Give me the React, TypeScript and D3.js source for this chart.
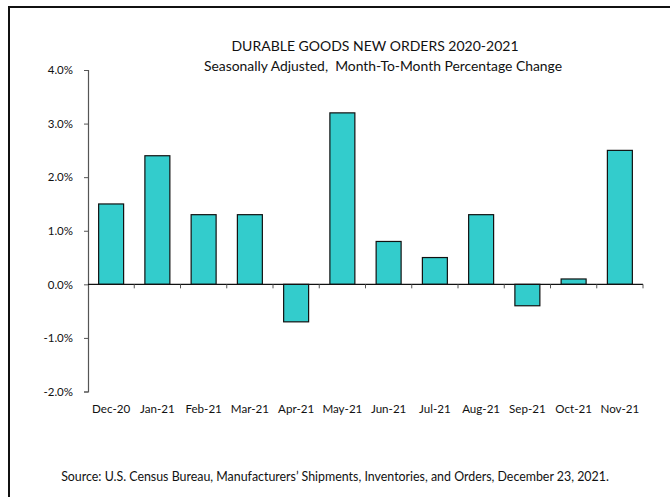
import * as d3 from 'd3';
import { useEffect, useRef } from 'react';

const months = ['Dec-20', 'Jan-21', 'Feb-21', 'Mar-21', 'Apr-21', 'May-21', 'Jun-21', 'Jul-21', 'Aug-21', 'Sep-21', 'Oct-21', 'Nov-21'];
const changes = [1.5, 2.4, 1.3, 1.3, -0.7, 3.2, 0.8, 0.5, 1.3, -0.4, 0.1, 2.5];
const yTicks = [-2, -1, 0, 1, 2, 3, 4];

const title = 'DURABLE GOODS NEW ORDERS 2020-2021';
const subtitle = 'Seasonally Adjusted,  Month-To-Month Percentage Change';
const source = 'Source: U.S. Census Bureau, Manufacturers\u2019 Shipments, Inventories, and Orders, December 23, 2021.';

const font = 'Lato, "Open Sans", sans-serif';

export default function App() {
  const svgRef = useRef<SVGSVGElement>(null);

  useEffect(() => {
    const svgEl = svgRef.current;
    if (!svgEl) return;

    const width = 670;
    const height = 497;
    const margin = { top: 70, right: 27, bottom: 105, left: 88 };

    const svg = d3.select(svgEl);
    svg.attr('width', width).attr('height', height);
    svg.selectAll('*').remove();

    // frame (only top and left edges are visible)
    svg.append('line').attr('x1', 8).attr('x2', width).attr('y1', 7).attr('y2', 7)
      .attr('stroke', '#111').attr('stroke-width', 2);
    svg.append('line').attr('x1', 9).attr('x2', 9).attr('y1', 7).attr('y2', height)
      .attr('stroke', '#111').attr('stroke-width', 2);

    const x = d3.scaleBand<string>()
      .domain(months)
      .range([margin.left, width - margin.right])
      .paddingInner(0.46)
      .paddingOuter(0.23);
    const y = d3.scaleLinear().domain([-2, 4]).range([height - margin.bottom - 0.5, margin.top]);

    const data = months.map((m, i) => ({ month: m, value: changes[i] }));

    svg.append('g')
      .selectAll('rect')
      .data(data)
      .join('rect')
      .attr('x', (d) => x(d.month)!)
      .attr('y', (d) => y(Math.max(0, d.value)))
      .attr('width', x.bandwidth())
      .attr('height', (d) => Math.abs(y(d.value) - y(0)))
      .attr('fill', '#33CCCC')
      .attr('stroke', '#111')
      .attr('stroke-width', 1.2);

    // y axis
    const yAxis = svg.append('g')
      .attr('transform', `translate(${margin.left},0)`)
      .call(d3.axisLeft(y).tickValues(yTicks).tickSize(4).tickPadding(11).tickFormat((d) => `${(+d).toFixed(1)}%`));
    yAxis.select('.domain').attr('stroke', '#555').attr('stroke-width', 1.2);
    yAxis.selectAll('.tick line').attr('stroke', '#555');
    yAxis.selectAll('text').attr('font-family', font).attr('font-size', 11.5).attr('fill', '#111');

    // zero line with ticks between categories
    const step = x.step();
    const x0 = margin.left;
    const x1 = width - margin.right;
    const zy = y(0);
    svg.append('line').attr('x1', x0).attr('x2', x1).attr('y1', zy).attr('y2', zy)
      .attr('stroke', '#111').attr('stroke-width', 1.2);
    svg.append('g')
      .selectAll('line')
      .data(months)
      .join('line')
      .attr('x1', (_, i) => x0 + (i + 1) * step)
      .attr('x2', (_, i) => x0 + (i + 1) * step)
      .attr('y1', zy)
      .attr('y2', zy + 4)
      .attr('stroke', '#555');

    // category labels
    svg.append('g')
      .selectAll('text')
      .data(months)
      .join('text')
      .attr('x', (d) => x(d)! + x.bandwidth() / 2)
      .attr('y', 413)
      .attr('text-anchor', 'middle')
      .attr('font-family', font)
      .attr('font-size', 11.6)
      .attr('fill', '#111')
      .text((d) => d);

    svg.append('text').attr('x', 375).attr('y', 51).attr('text-anchor', 'middle')
      .attr('font-family', font).attr('font-size', 14).attr('fill', '#111').text(title);
    svg.append('text').attr('x', 383).attr('y', 71).attr('text-anchor', 'middle')
      .attr('font-family', font).attr('font-size', 13.9).attr('fill', '#111')
      .attr('xml:space', 'preserve').style('white-space', 'pre').text(subtitle);
    svg.append('text').attr('x', 335).attr('y', 481).attr('text-anchor', 'middle')
      .attr('font-family', font).attr('font-size', 12.4).attr('fill', '#111').text(source);
  }, []);

  return (
    <svg
      ref={svgRef}
      style={{ position: 'absolute', left: 0, top: 0, display: 'block', background: '#fff' }}
      role="img"
      aria-label="Durable goods new orders 2020-2021"
    />
  );
}
